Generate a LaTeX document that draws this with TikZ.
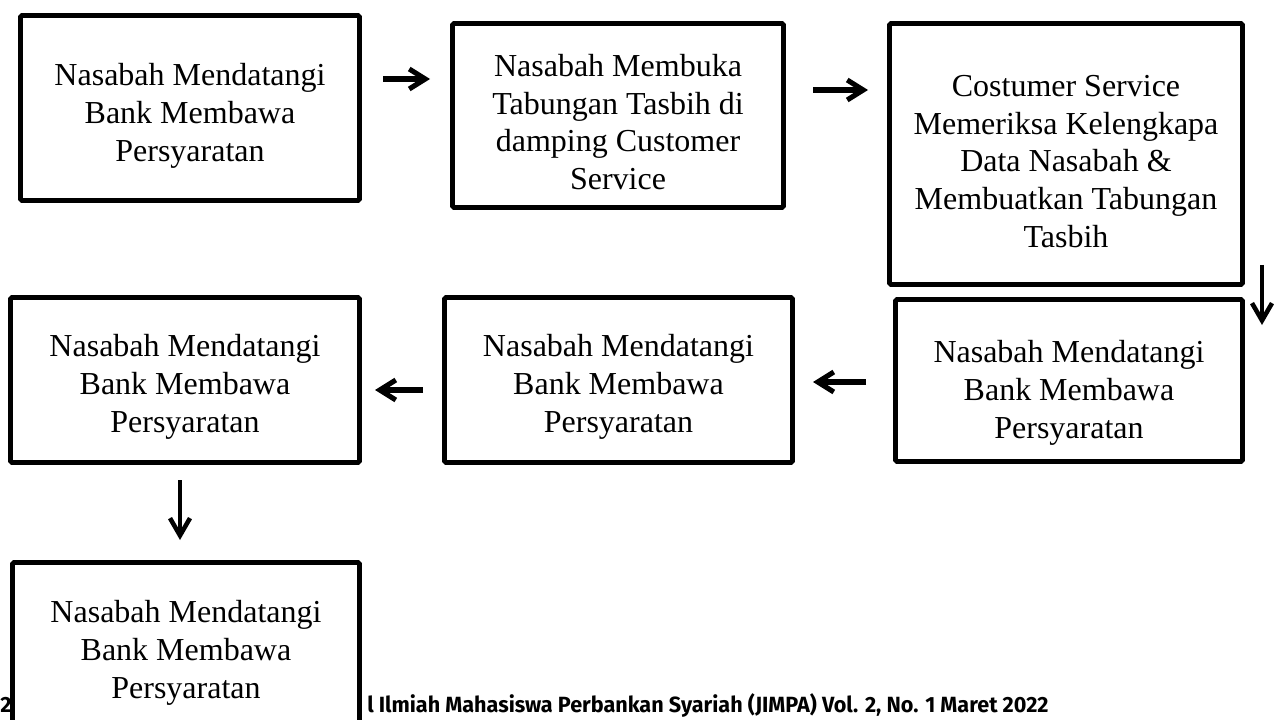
\documentclass[tikz,border=0pt]{standalone}
\usepackage{fontspec}
\setmainfont{Liberation Serif}
\newfontfamily\footfont{Fira Sans}
\usetikzlibrary{arrows.meta}
\begin{document}
\begin{tikzpicture}[x=0.75pt,y=-0.75pt,
  flowbox/.style={draw=black, line width=3.6pt, fill=white,
    rounded corners=1.2pt, inner sep=0pt},
  boxtext/.style={align=center, inner sep=0pt,
    font=\fontsize{24}{28.4}\selectfont},
  boldarrow/.style={line width=4.4pt,
    -{Straight Barb[length=12pt,width=15pt,line width=3.8pt]}},
  slimarrow/.style={line width=3.2pt,
    -{Straight Barb[length=13pt,width=15pt,line width=3.4pt]}},
  footstyle/.style={inner sep=0pt, font=\footfont\bfseries\fontsize{16.5}{16.5}\selectfont}]
\useasboundingbox (0,0) rectangle (1281,720);

% footer (partly hidden behind the last box)
\node[footstyle, anchor=base west] (foottwo) at (0,712) {2};
\node[footstyle, anchor=base west] (foottext) at (367,712)
  {\resizebox{511pt}{\height}{l Ilmiah Mahasiswa Perbankan Syariah (JIMPA) Vol. 2, No. 1 Maret 2022}};

% boxes
\node[flowbox, minimum width=254.25pt, minimum height=138.75pt] (b1) at (190,108) {};
\node[flowbox, minimum width=248.25pt, minimum height=138pt] (b2) at (618,115.5) {};
\node[flowbox, minimum width=264.75pt, minimum height=195.75pt] (b3) at (1066,154) {};
\node[flowbox, minimum width=260.25pt, minimum height=121.5pt] (b4) at (1069,380.5) {};
\node[flowbox, minimum width=261pt, minimum height=123.75pt] (b5) at (618.5,380) {};
\node[flowbox, minimum width=261.75pt, minimum height=123.75pt] (b6) at (185,380) {};
\node[flowbox, minimum width=260.25pt, minimum height=127.5pt] (b7) at (186,647.5) {};

% box texts
\node[boxtext] (t1) at (190,116) {Nasabah Mendatangi\\Bank Membawa\\Persyaratan};
\node[boxtext] (t2) at (618,122) {Nasabah Membuka\\Tabungan Tasbih di\\damping Customer\\Service};
\node[boxtext] (t3) at (1066,161.5) {Costumer Service\\Memeriksa Kelengkapa\\Data Nasabah \&\\Membuatkan Tabungan\\Tasbih};
\node[boxtext] (t4) at (1069,393) {Nasabah Mendatangi\\Bank Membawa\\Persyaratan};
\node[boxtext] (t5) at (618.5,386.5) {Nasabah Mendatangi\\Bank Membawa\\Persyaratan};
\node[boxtext] (t6) at (185,386.5) {Nasabah Mendatangi\\Bank Membawa\\Persyaratan};
\node[boxtext] (t7) at (186,652.5) {Nasabah Mendatangi\\Bank Membawa\\Persyaratan};

% arrow end points
\coordinate (a1s) at (383,79);   \coordinate (a1e) at (430,79);
\coordinate (a2s) at (813,90);   \coordinate (a2e) at (868,90);
\coordinate (a3s) at (1262,265); \coordinate (a3e) at (1262,325);
\coordinate (a4s) at (866,382);  \coordinate (a4e) at (813,382);
\coordinate (a5s) at (423,390);  \coordinate (a5e) at (375,390);
\coordinate (a6s) at (180,480);  \coordinate (a6e) at (180,540);

\draw[boldarrow] (a1s) -- (a1e);
\draw[boldarrow] (a2s) -- (a2e);
\draw[slimarrow] (a3s) -- (a3e);
\draw[boldarrow] (a4s) -- (a4e);
\draw[boldarrow] (a5s) -- (a5e);
\draw[slimarrow] (a6s) -- (a6e);
\end{tikzpicture}
\end{document}
